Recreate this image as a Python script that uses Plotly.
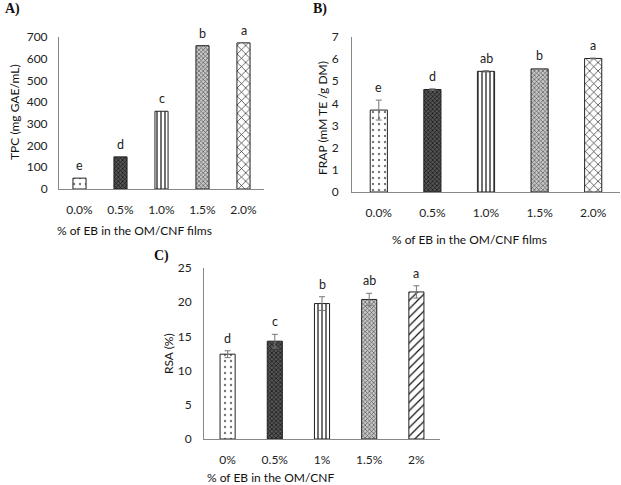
import plotly.graph_objects as go

# ---- data ----
cats_ab = ["0.0%", "0.5%", "1.0%", "1.5%", "2.0%"]
cats_c = ["0%", "0.5%", "1%", "1.5%", "2%"]

tpc = [50, 148, 358, 660, 673]
tpc_err = [0, 0, 0, 0, 0]
tpc_letters = ["e", "d", "c", "b", "a"]

frap = [3.7, 4.63, 5.45, 5.56, 6.03]
frap_err = [0.45, 0.03, 0.03, 0.02, 0.02]
frap_letters = ["e", "d", "ab", "b", "a"]

rsa = [12.4, 14.3, 19.8, 20.4, 21.5]
rsa_err = [0.5, 1.0, 1.0, 0.9, 0.9]
rsa_letters = ["d", "c", "b", "ab", "a"]

FONT = "Lato"
FS = 12
W, H = 621, 485

def px_x(v):
    return v / W

def px_y(v):
    return 1 - v / H

patterns_ab = [
    dict(shape=".", fgcolor="#777", bgcolor="white", size=6, solidity=0.12, fillmode="replace"),
    dict(shape="x", fgcolor="#111", bgcolor="#555", size=3, solidity=0.4, fillmode="replace"),
    dict(shape="|", fgcolor="#111", bgcolor="white", size=4, solidity=0.3, fillmode="replace"),
    dict(shape="x", fgcolor="#555", bgcolor="#c8c8c8", size=3, solidity=0.4, fillmode="replace"),
    dict(shape="x", fgcolor="#111", bgcolor="white", size=6, solidity=0.2, fillmode="replace"),
]
patterns_c = patterns_ab[:4] + [
    dict(shape="/", fgcolor="#111", bgcolor="white", size=6, solidity=0.2, fillmode="replace"),
]

fig = go.Figure()

panels = [
    ("x", "y", cats_ab, tpc, tpc_err, tpc_letters, patterns_ab),
    ("x2", "y2", cats_ab, frap, frap_err, frap_letters, patterns_ab),
    ("x3", "y3", cats_c, rsa, rsa_err, rsa_letters, patterns_c),
]

for xa, ya, cats, vals, errs, letters, pats in panels:
    for i, (c, v, e) in enumerate(zip(cats, vals, errs)):
        fig.add_trace(go.Bar(
            x=[c], y=[v], xaxis=xa, yaxis=ya, width=0.32,
            marker=dict(color="white", line=dict(color="#222", width=1), pattern=pats[i]),
            error_y=dict(type="data", array=[e], visible=e > 0, color="#777", thickness=1, width=3),
            showlegend=False, hoverinfo="skip",
        ))
        fig.add_annotation(
            x=c, y=v + e, xref=xa, yref=ya, text=letters[i], showarrow=False,
            yanchor="bottom", yshift=3, font=dict(family=FONT, size=FS + 0.5, color="#222"),
        )

axis_common = dict(showline=True, linecolor="#888", linewidth=1, showgrid=False,
                   zeroline=False, ticks="", automargin=False,
                   tickfont=dict(family=FONT, size=FS, color="#222"))

fig.update_layout(
    template="none",
    width=W, height=H, margin=dict(l=0, r=0, t=0, b=0, autoexpand=False),
    paper_bgcolor="white", plot_bgcolor="white",
    xaxis=dict(type="category", categoryarray=cats_ab, domain=[px_x(59), px_x(264)], anchor="y", ticklabelstandoff=10, **axis_common),
    yaxis=dict(domain=[px_y(189), px_y(37)], anchor="x", range=[0, 700], dtick=100, ticklabelstandoff=8, **axis_common),
    xaxis2=dict(type="category", categoryarray=cats_ab, domain=[px_x(352), px_x(620)], anchor="y2", ticklabelstandoff=10, **axis_common),
    yaxis2=dict(domain=[px_y(192), px_y(37)], anchor="x2", range=[0, 7], dtick=1, ticklabelstandoff=10, **axis_common),
    xaxis3=dict(type="category", categoryarray=cats_c, domain=[px_x(204), px_x(440)], anchor="y3", ticklabelstandoff=10, **axis_common),
    yaxis3=dict(domain=[px_y(439), px_y(268)], anchor="x3", range=[0, 25], dtick=5, ticklabelstandoff=9, **axis_common),
)

def ann(text, x, y, size=FS, angle=0, family=FONT, xanchor="center"):
    fig.add_annotation(text=text, x=px_x(x), y=px_y(y), xref="paper", yref="paper",
                       showarrow=False, textangle=angle, xanchor=xanchor, yanchor="middle",
                       font=dict(family=family, size=size, color="#111"))

# panel labels
ann("<b>A)</b>", 3, 9, size=14, family="Liberation Serif", xanchor="left")
ann("<b>B)</b>", 311, 9, size=14, family="Liberation Serif", xanchor="left")
ann("<b>C)</b>", 152, 256, size=14, family="Liberation Serif", xanchor="left")

# axis titles
ann("TPC (mg GAE/mL)", 14, 112, angle=-90)
ann("FRAP (mM TE /g DM)", 322, 118, angle=-90)
ann("RSA (%)", 168, 354, angle=-90)
ann("% of EB in the OM/CNF films", 55, 230, xanchor="left")
ann("% of EB in the OM/CNF films", 390, 239, xanchor="left")
ann("% of EB in the OM/CNF", 205, 477, xanchor="left")

fig.write_html("out.html", config={"displayModeBar": False},
               post_script="document.body.style.margin='0px';")
